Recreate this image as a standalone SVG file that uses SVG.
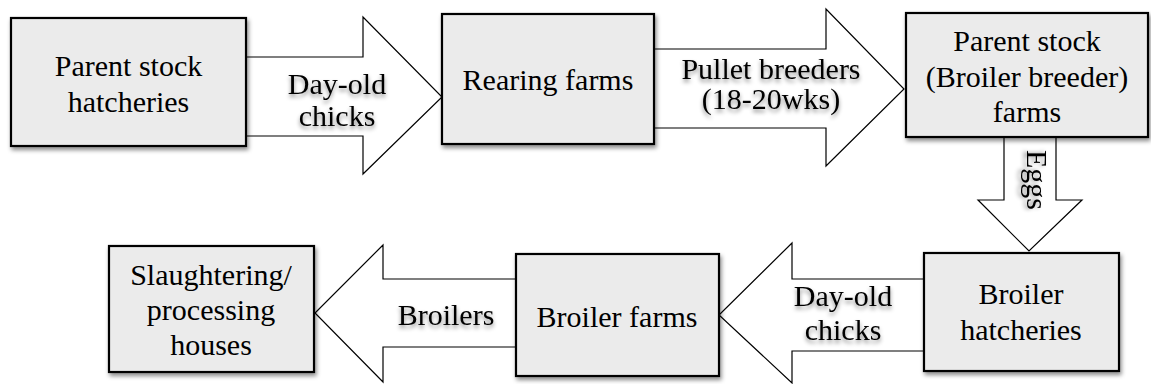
<svg xmlns="http://www.w3.org/2000/svg" width="1151" height="384" viewBox="0 0 1151 384">
<defs>
<filter id="boxShadow" x="-10%" y="-10%" width="125%" height="130%">
<feDropShadow dx="1.5" dy="3" stdDeviation="2" flood-color="#000" flood-opacity="0.45"/>
</filter>
<filter id="textShadow" x="-10%" y="-20%" width="125%" height="150%">
<feDropShadow dx="0" dy="3" stdDeviation="2" flood-color="#000" flood-opacity="0.45"/>
</filter>
</defs>
<style>
.box{fill:#ebebeb;stroke:#000;stroke-width:2.2;filter:url(#boxShadow)}
.arrow{fill:#fff;stroke:#000;stroke-width:1.2;stroke-linejoin:miter}
.t{font-family:'Liberation Serif','DejaVu Serif',serif;font-size:30px;fill:#000;text-anchor:middle}
.lbl{font-family:'Liberation Serif','DejaVu Serif',serif;font-size:30px;fill:#000;text-anchor:middle;filter:url(#textShadow)}
</style>
<rect width="1151" height="384" fill="#fff"/>
<g id="connectors" font-family="Liberation Serif, DejaVu Serif, serif">
<polygon class="arrow" points="246,57 363,57 363,17 442,97 363,174 363,136 246,136"/>
<polygon class="arrow" points="654,49 826,49 826,9 904,89 826,166 826,128 654,128"/>
<polygon class="arrow" points="1004,137 1056,137 1056,200 1082,200 1029,251 978,200 1004,200"/>
<polygon class="arrow" points="924,279 792,279 792,243 719,315 792,383 792,351 924,351"/>
<polygon class="arrow" points="516,279 383,279 383,245 315,313 383,382 383,347 516,347"/>
<text class="lbl" x="337" y="94">Day-old</text>
<text class="lbl" x="337" y="126">chicks</text>
<text class="lbl" x="771" y="79">Pullet breeders</text>
<text class="lbl" x="771" y="109">(18-20wks)</text>
<text class="lbl" transform="translate(1027,180) rotate(90)" x="0" y="0" font-size="28">Eggs</text>
<text class="lbl" x="843" y="306">Day-old</text>
<text class="lbl" x="843" y="340">chicks</text>
<text class="lbl" x="446" y="325">Broilers</text>
</g>
<g id="node-parent-stock-hatcheries" font-family="Liberation Serif, DejaVu Serif, serif">
<rect class="box" x="11" y="18" width="235" height="128"/>
<text class="t" x="128.5" y="76">Parent stock</text>
<text class="t" x="128.5" y="112">hatcheries</text>
</g>
<g id="node-rearing-farms" font-family="Liberation Serif, DejaVu Serif, serif">
<rect class="box" x="442" y="14" width="212" height="130"/>
<text class="t" x="548" y="90">Rearing farms</text>
</g>
<g id="node-parent-stock-farms" font-family="Liberation Serif, DejaVu Serif, serif">
<rect class="box" x="906" y="13" width="242" height="124"/>
<text class="t" x="1027" y="51">Parent stock</text>
<text class="t" x="1027" y="87">(Broiler breeder)</text>
<text class="t" x="1027" y="122">farms</text>
</g>
<g id="node-broiler-hatcheries" font-family="Liberation Serif, DejaVu Serif, serif">
<rect class="box" x="924" y="253" width="195" height="118"/>
<text class="t" x="1021" y="304">Broiler</text>
<text class="t" x="1021" y="340">hatcheries</text>
</g>
<g id="node-broiler-farms" font-family="Liberation Serif, DejaVu Serif, serif">
<rect class="box" x="516" y="254" width="203" height="122"/>
<text class="t" x="617" y="327">Broiler farms</text>
</g>
<g id="node-slaughtering" font-family="Liberation Serif, DejaVu Serif, serif">
<rect class="box" x="109" y="246" width="205" height="126"/>
<text class="t" x="211" y="285">Slaughtering/</text>
<text class="t" x="211" y="320">processing</text>
<text class="t" x="211" y="355">houses</text>
</g>
</svg>
